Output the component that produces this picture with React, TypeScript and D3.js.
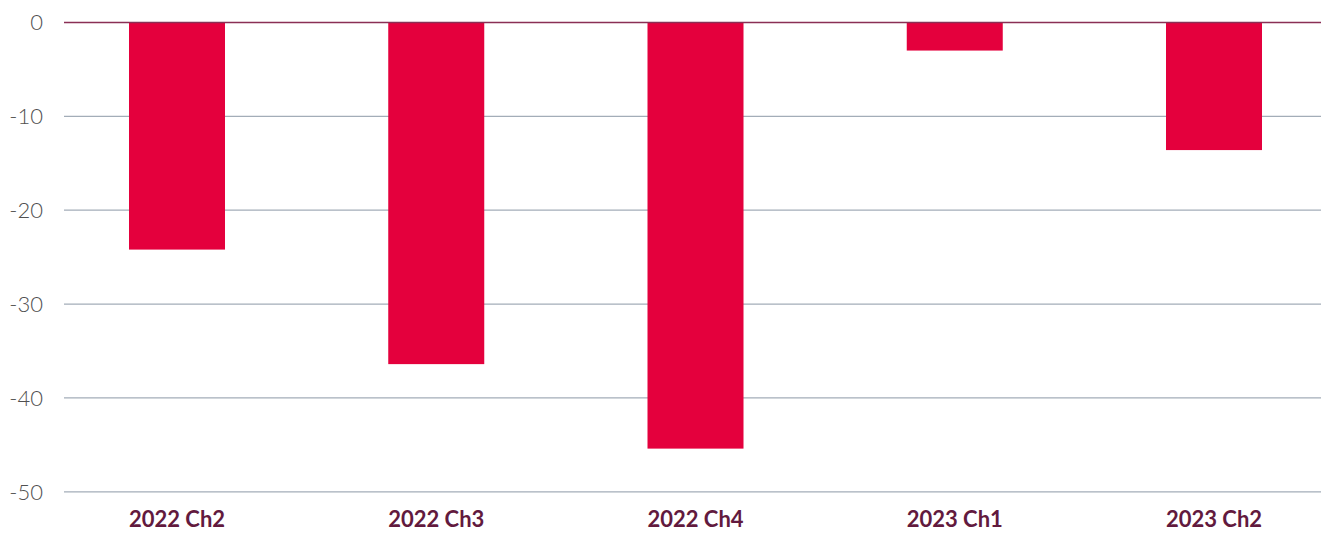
import React from "react";
import * as d3 from "d3";

const categories = ["2022 Ch2", "2022 Ch3", "2022 Ch4", "2023 Ch1", "2023 Ch2"];
const values = [-24.2, -36.4, -45.4, -3.0, -13.6];
const yTicks = [0, -10, -20, -30, -40, -50];

const W = 1321;
const H = 533;

export default function App() {
  const y = d3.scaleLinear().domain([-50, 0]).range([491.8, 22.4]);
  const x = d3.scalePoint<string>().domain(categories).range([177, 1214]);
  const barW = 96;
  const gridLeft = 64;
  const gridRight = W;

  return (
    <svg width={W} height={H} style={{ position: "absolute", left: 0, top: 0 }}>
      {yTicks.filter((t) => t !== 0).map((t) => (
        <line key={t} x1={gridLeft} x2={gridRight} y1={y(t)} y2={y(t)} stroke="#a3adb8" strokeWidth={1.3} />
      ))}
      {categories.map((c, i) => (
        <rect
          key={c}
          x={(x(c) as number) - barW / 2}
          y={y(0)}
          width={barW}
          height={y(values[i]) - y(0)}
          fill="#e4003d"
        />
      ))}
      <line x1={gridLeft} x2={gridRight} y1={y(0)} y2={y(0)} stroke="#8a2f55" strokeWidth={1.5} />
      {yTicks.map((t) => (
        <text
          key={t}
          x={43}
          y={y(t)}
          dy="0.35em"
          textAnchor="end"
          fontFamily="Lato, 'Open Sans', sans-serif"
          fontSize={22}
          fontWeight={300}
          fill="#505050"
        >
          {t}
        </text>
      ))}
      {categories.map((c) => (
        <text
          key={c}
          x={x(c) as number}
          y={527}
          textAnchor="middle"
          fontFamily="Lato, 'Open Sans', sans-serif"
          fontSize={22}
          fontWeight={700}
          fill="#621a3e"
        >
          {c}
        </text>
      ))}
    </svg>
  );
}
